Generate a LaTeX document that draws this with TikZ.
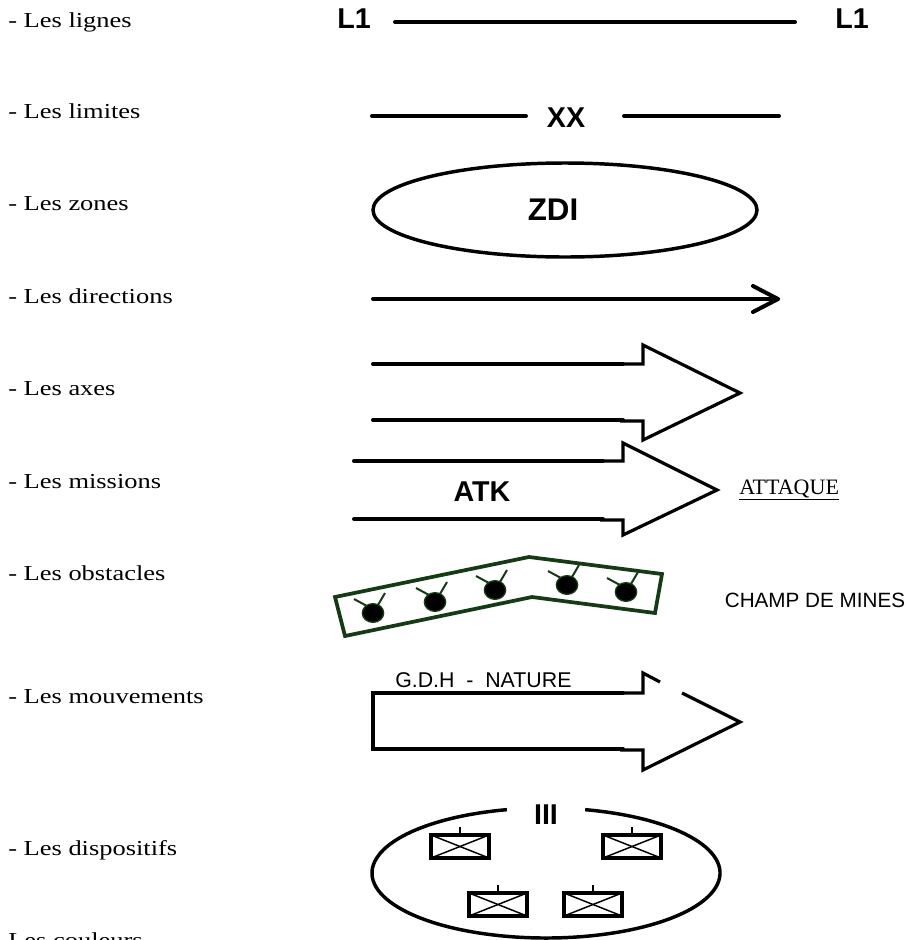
\documentclass[tikz,border=0pt]{standalone}
\usepackage{fontspec}
\usepackage{graphicx}
\setmainfont{Liberation Serif}
\newfontfamily\arialf{Liberation Sans}
\usetikzlibrary{calc}
\definecolor{minegreen}{RGB}{22,58,22}
\begin{document}
\begin{tikzpicture}[x=0.75pt,y=-0.75pt,
  lbl/.style={anchor=base west, inner sep=0pt, font=\fontsize{16}{19}\selectfont},
  boldlbl/.style={inner sep=0pt, font=\arialf\bfseries\fontsize{21.5}{25}\selectfont},
  plainsans/.style={inner sep=0pt, font=\arialf\fontsize{15.5}{18}\selectfont},
  shaft/.style={line width=3pt, line cap=round},
  outline/.style={line width=2.4pt, line join=miter},
  unitbox/.style={line width=2.8pt},
  cross/.style={line width=1.1pt}
]
\useasboundingbox (0,0) rectangle (910,940);

% ---- left labels
\node[lbl] (t1) at (8,27)  {\scalebox{1.24}[1]{- Les lignes}};
\node[lbl] (t2) at (8,118) {\scalebox{1.24}[1]{- Les limites}};
\node[lbl] (t3) at (8,210) {\scalebox{1.24}[1]{- Les zones}};
\node[lbl] (t4) at (8,303) {\scalebox{1.24}[1]{- Les directions}};
\node[lbl] (t5) at (8,395) {\scalebox{1.24}[1]{- Les axes}};
\node[lbl] (t6) at (8,488) {\scalebox{1.24}[1]{- Les missions}};
\node[lbl] (t7) at (8,580) {\scalebox{1.24}[1]{- Les obstacles}};
\node[lbl] (t8) at (8,703) {\scalebox{1.24}[1]{- Les mouvements}};
\node[lbl] (t9) at (8,855) {\scalebox{1.24}[1]{- Les dispositifs}};
\node[lbl] (t10) at (8,947) {\scalebox{1.24}[1]{Les couleurs}};

% ---- lignes
\node[boldlbl, anchor=base] (L1a) at (354,28) {L1};
\node[boldlbl, anchor=base] (L1b) at (852,28) {L1};
\coordinate (la) at (395,22);
\coordinate (lb) at (795,22);
\draw[shaft] (la) -- (lb);

% ---- limites
\node[boldlbl] (XX) at (566,118) {XX};
\coordinate (xa) at (372,116);
\coordinate (xb) at (526,116);
\coordinate (xc) at (624,116);
\coordinate (xd) at (779,116);
\draw[shaft] (xa) -- (xb);
\draw[shaft] (xc) -- (xd);

% ---- zones
\coordinate (Zc) at (565,210);
\draw[line width=2.6pt] (Zc) ellipse [x radius=144pt, y radius=35.25pt];
\node[inner sep=0pt, font=\arialf\bfseries\fontsize{23.5}{27}\selectfont] (ZDI) at (553,210) {ZDI};

% ---- directions
\coordinate (da) at (373,299);
\coordinate (db) at (778,299);
\draw[shaft] (da) -- (db);
\draw[shaft, line join=round] (753,286) -- (db) -- (753,312);

% ---- axes
\draw[shaft] (373,364) -- (623,364);
\draw[shaft] (373,420) -- (623,420);
\draw[outline] (620,364) -- (643,364) -- (643,345) -- (740,393) -- (643,440) -- (643,421) -- (620,421);

% ---- missions
\draw[shaft] (354,461) -- (603,461);
\draw[shaft] (354,519) -- (603,519);
\draw[outline] (600,461) -- (623,461) -- (623,443) -- (717,490) -- (623,535) -- (623,520) -- (600,520);
\node[boldlbl] (ATK) at (482,492) {ATK};
\node[inner sep=0pt, anchor=base west, font=\fontsize{16.5}{19}\selectfont] (ATT) at (739,494) {\underline{ATTAQUE}};

% ---- obstacles
\draw[minegreen, line width=2.8pt, line join=miter] (335,597) -- (529,557) -- (662,574) -- (655,613) -- (532,597) -- (345,636) -- cycle;
\foreach \mx/\my in {373/613, 435/602, 495/590, 567/585, 626/592} {
  \fill[black, draw=minegreen, line width=1pt] (\mx,\my) ellipse [x radius=8pt, y radius=7pt];
  \draw[minegreen, line width=1.5pt] ({\mx-6},{\my-7}) -- ({\mx-19},{\my-14});
  \draw[minegreen, line width=1.5pt] ({\mx+5},{\my-8}) -- ({\mx+12},{\my-20});
}
\node[plainsans] (CDM) at (815,600) {CHAMP DE MINES};

% ---- mouvements
\draw[shaft, line cap=butt] (373,691) -- (373,751);
\draw[shaft] (373,693) -- (623,693);
\draw[shaft] (373,749) -- (623,749);
\draw[outline] (620,693) -- (643,693) -- (643,673) -- (660,682);
\draw[outline] (682,693) -- (740,722) -- (643,770) -- (643,750) -- (620,750);
\node[plainsans, anchor=base west, font=\arialf\fontsize{16}{19}\selectfont] (GDH) at (395,687) {G.D.H\ \ -\ \ NATURE};

% ---- dispositifs
\coordinate (Dc) at (546,873);
\draw[line width=2.6pt] ($(Dc)+(77:130.5pt and 48.75pt)$) arc[start angle=77, end angle=-257, x radius=130.5pt, y radius=48.75pt];
\node[boldlbl] (III) at (546,815) {III};
\foreach \bx/\by in {431/835, 603/835, 469/893, 564/893} {
  \draw[unitbox] (\bx,\by) rectangle ({\bx+58},{\by+23});
  \draw[cross] (\bx,\by) -- ({\bx+58},{\by+23});
  \draw[cross] (\bx,{\by+23}) -- ({\bx+58},\by);
  \draw[line width=1.3pt] ({\bx+29},\by) -- ({\bx+29},{\by-8});
}
\end{tikzpicture}
\end{document}
